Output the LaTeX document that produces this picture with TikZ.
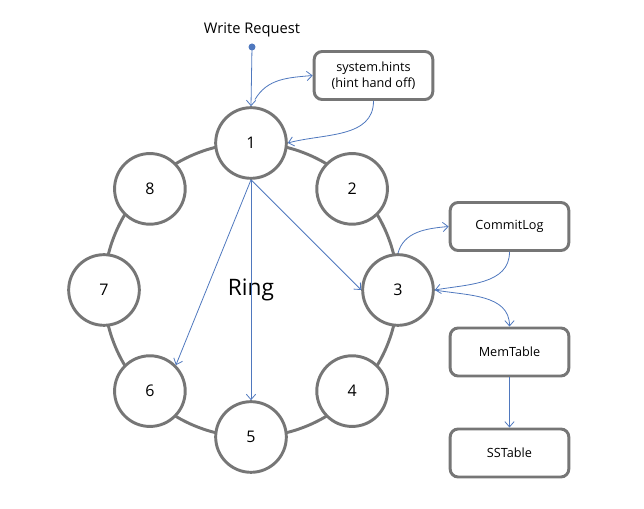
\documentclass[tikz,border=0pt]{standalone}
\usepackage{fontspec}
\setsansfont{Open Sans}
\usetikzlibrary{arrows.meta}
\definecolor{ringgray}{RGB}{118,118,118}
\definecolor{arrowblue}{RGB}{79,120,190}
\tikzset{
	ringnode/.style={circle,draw=ringgray,line width=2.2pt,fill=white,minimum size=53pt,inner sep=0pt,font={\sffamily\fontsize{12}{14}\selectfont}},
	storebox/.style={rectangle,rounded corners=6pt,draw=ringgray,line width=2.2pt,fill=white,minimum width=89pt,minimum height=36pt,inner sep=1pt,align=center,font={\sffamily\fontsize{9.5}{12}\selectfont}},
	flow/.style={arrowblue,line width=0.6pt,-{Straight Barb[length=4pt,width=7pt]}}
}
\begin{document}
\begin{tikzpicture}[font={\sffamily},x=0.75pt,y=0.75pt]
\useasboundingbox (0,0) rectangle (644,-509);
% ring and its nodes
\draw[ringgray,line width=2.2pt] (251,-290) circle (147);
\foreach \i/\r in {1/147,2/143,3/147,4/143,5/147,6/143,7/147,8/143} {
		\node[ringnode] (n\i) at ({251+\r*cos(90-45*(\i-1))},{-290+\r*sin(90-45*(\i-1))}) {\i};
}
\node[font={\sffamily\fontsize{17}{20}\selectfont}] (ring) at (251,-290) {Ring};

% write request
\node[font={\sffamily\fontsize{11}{13}\selectfont}] (req) at (252,-30) {Write Request};
\fill[arrowblue] (252,-47) circle (3.5) coordinate (dot);
\draw[flow] (dot) -- (n1.north);

% boxes
\node[storebox] (hints) at (373.5,-75.5) {system.hints\\(hint hand off)};
\node[storebox] (commitlog) at (509.5,-226.5) {CommitLog};
\node[storebox] (memtable) at (509.5,-352) {MemTable};
\node[storebox] (sstable) at (509.5,-453) {SSTable};

% connectors
\draw[flow] ([xshift=3pt,yshift=5pt]n1.north) to[out=60,in=185] (hints.west);
\draw[flow] (hints.south) to[out=-90,in=15] (n1.east);
\draw[flow] (n1.south) -- (n3.west);
\draw[flow] (n1.south) -- (n5.north);
\draw[flow] (n1.south) -- (n6.north east);
\draw[flow] (n3.north) to[out=75,in=185] (commitlog.west);
\draw[flow] (commitlog.south) to[out=-90,in=10] (n3.east);
\draw[flow] (n3.east) to[out=-10,in=90] (memtable.north);
\draw[flow] (memtable.south) -- (sstable.north);
\end{tikzpicture}
\end{document}
